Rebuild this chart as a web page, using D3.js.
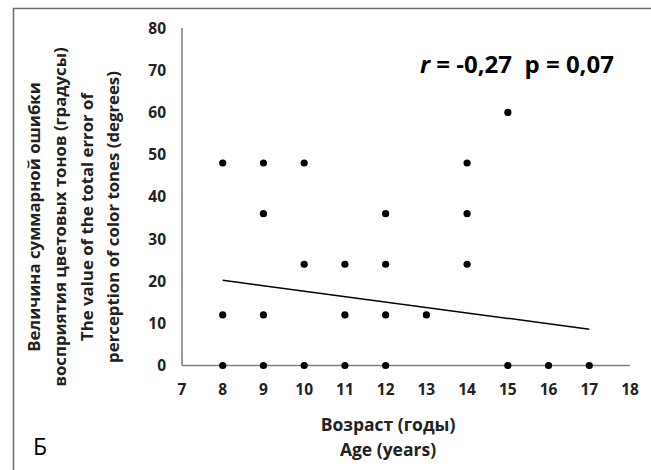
<!DOCTYPE html>
<html lang="ru">
<head>
<meta charset="UTF-8">
<title>Возраст и ошибка восприятия цветовых тонов</title>
<style>
    body { margin: 0; background: #fff; }
    svg { display: block; }
    text { font-family: "Open Sans", "Noto Sans", sans-serif; }
</style>
</head>
<body>
<script src="https://d3js.org/d3.v7.min.js"></script>
<script>
    const width = 651
    const height = 470

    // данные
    const ages   = [8, 8, 8, 9, 9, 9, 9, 10, 10, 10, 11, 11, 11, 12, 12, 12, 12, 13, 14, 14, 14, 15, 15, 16, 17]
    const errors = [0, 12, 48, 0, 12, 36, 48, 0, 24, 48, 0, 12, 24, 0, 12, 24, 36, 12, 24, 36, 48, 0, 60, 0, 0]
    const trendX = [8, 17]
    const trendY = [20.2, 8.6]
    const xTicks = d3.range(7, 19)
    const yTicks = d3.range(0, 90, 10)

    const yTitle = [
        'Величина суммарной ошибки',
        'восприятия цветовых тонов (градусы)',
        'The value of the total error of',
        'perception of color tones (degrees)'
    ]
    const xTitle = ['Возраст (годы)', 'Age (years)']

    const x = d3.scaleLinear().domain([7, 18]).range([182, 630])
    const y = d3.scaleLinear().domain([0, 80]).range([365.5, 28])

    const svg = d3.select('body').append('svg')
        .attr('width', width)
        .attr('height', height)

    // рамка (только верх и левая сторона)
    svg.append('path')
        .attr('d', `M13.5,${height} V8.5 H${width}`)
        .attr('fill', 'none')
        .attr('stroke', '#6e6e6e')
        .attr('stroke-width', 1.5)

    // оси
    svg.append('line')
        .attr('x1', x(7)).attr('x2', x(7))
        .attr('y1', y(80)).attr('y2', y(0))
        .attr('stroke', '#7f7f7f').attr('stroke-width', 1.5)
    svg.append('line')
        .attr('x1', x(7)).attr('x2', x(18))
        .attr('y1', y(0)).attr('y2', y(0))
        .attr('stroke', '#7f7f7f').attr('stroke-width', 1.5)

    svg.append('g')
        .selectAll('text')
        .data(yTicks)
        .join('text')
        .attr('x', 166)
        .attr('y', d => y(d))
        .attr('dy', '0.36em')
        .attr('text-anchor', 'end')
        .attr('font-size', 15.5)
        .attr('font-weight', 700)
        .attr('fill', '#222')
        .text(d => d)

    svg.append('g')
        .selectAll('text')
        .data(xTicks)
        .join('text')
        .attr('x', d => x(d))
        .attr('y', 395)
        .attr('text-anchor', 'middle')
        .attr('font-size', 15.5)
        .attr('font-weight', 700)
        .attr('fill', '#222')
        .text(d => d)

    // подписи осей
    svg.append('g')
        .selectAll('text')
        .data(yTitle)
        .join('text')
        .attr('transform', (_, i) => `translate(${33 + i * 26.5}, 217) rotate(-90)`)
        .attr('dominant-baseline', 'central')
        .attr('text-anchor', 'middle')
        .attr('font-size', 16.8)
        .attr('font-weight', 700)
        .attr('fill', '#222')
        .text(d => d)

    svg.append('g')
        .selectAll('text')
        .data(xTitle)
        .join('text')
        .attr('x', 388)
        .attr('y', (_, i) => 431 + i * 24.5)
        .attr('text-anchor', 'middle')
        .attr('font-size', 17.5)
        .attr('font-weight', 700)
        .attr('fill', '#222')
        .text(d => d)

    // линия тренда
    svg.append('line')
        .attr('x1', x(trendX[0])).attr('y1', y(trendY[0]))
        .attr('x2', x(trendX[1])).attr('y2', y(trendY[1]))
        .attr('stroke', '#000').attr('stroke-width', 1.5)

    // точки
    svg.append('g')
        .selectAll('circle')
        .data(ages)
        .join('circle')
        .attr('cx', d => x(d))
        .attr('cy', (_, i) => y(errors[i]))
        .attr('r', 3.6)
        .attr('fill', '#000')

    // r и p
    const stat = svg.append('text')
        .attr('x', 420)
        .attr('y', 73)
        .attr('font-size', 24)
        .attr('font-weight', 700)
        .attr('fill', '#000')
    stat.append('tspan').attr('font-style', 'italic').text('r')
    stat.append('tspan').attr('xml:space', 'preserve').text(' = -0,27  p = 0,07')

    svg.append('text')
        .attr('x', 33)
        .attr('y', 455)
        .attr('font-family', '"Liberation Serif", "DejaVu Serif", serif')
        .attr('font-size', 23)
        .attr('fill', '#000')
        .text('Б')
</script>
</body>
</html>
